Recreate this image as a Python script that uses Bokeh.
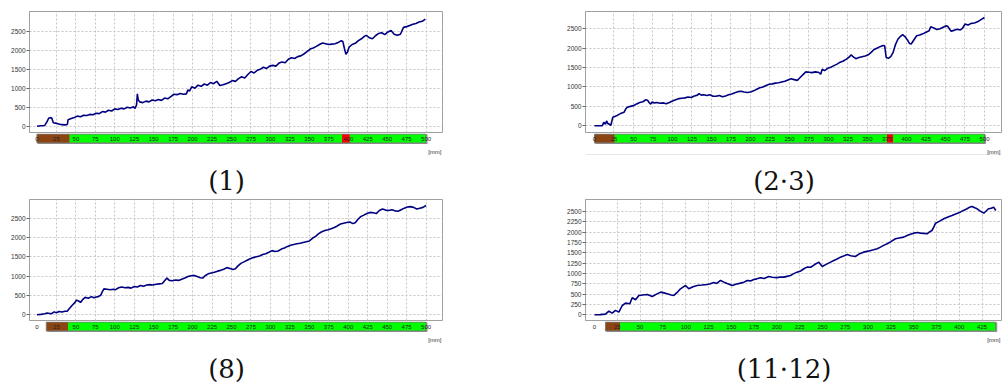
from bokeh.plotting import figure
from bokeh.layouts import column, row
from bokeh.models import Range1d, FixedTicker, ColumnDataSource
from bokeh.core.properties import value
from bokeh.embed import file_html
from bokeh.resources import INLINE

# ---------------- data ----------------
P1_POINTS = [(0, 0), (5, 10), (10, 20), (13, 120), (15, 210), (17, 225), (19, 215), (21, 90), (24, 80), (28, 60),
             (32, 40), (36, 35), (39, 45), (40, 170), (44, 200), (48, 230), (52, 265), (56, 250), (60, 290), (64, 280),
             (68, 310), (72, 300), (76, 340), (80, 330), (84, 385), (88, 370), (92, 420), (96, 400), (100, 455),
             (104, 440), (108, 470), (112, 455), (116, 500), (120, 480), (124, 510), (126, 470), (128, 560), (129, 850),
             (130, 700), (132, 640), (136, 620), (140, 660), (144, 640), (148, 690), (152, 670), (156, 700), (160, 680),
             (164, 740), (168, 720), (172, 780), (176, 840), (180, 830), (184, 860), (188, 840), (192, 850), (194, 960),
             (196, 920), (199, 1040), (203, 1000), (207, 1080), (211, 1050), (215, 1110), (219, 1080), (223, 1150),
             (227, 1120), (231, 1180), (235, 1070), (239, 1090), (243, 1120), (247, 1150), (251, 1200), (255, 1180),
             (259, 1250), (263, 1300), (267, 1270), (271, 1360), (275, 1440), (279, 1400), (283, 1470), (287, 1500),
             (291, 1550), (295, 1520), (299, 1580), (303, 1600), (307, 1580), (311, 1660), (315, 1690), (319, 1670),
             (323, 1760), (327, 1800), (331, 1780), (335, 1830), (339, 1850), (343, 1900), (347, 1960), (351, 2030),
             (355, 2060), (359, 2100), (363, 2150), (367, 2190), (371, 2170), (375, 2150), (379, 2160), (383, 2170),
             (387, 2200), (391, 2250), (393, 2230), (395, 2050), (397, 1890), (399, 1950), (401, 2080), (405, 2150),
             (409, 2180), (413, 2250), (417, 2300), (421, 2370), (423, 2390), (427, 2330), (431, 2300), (435, 2380),
             (439, 2440), (443, 2460), (447, 2410), (451, 2480), (455, 2520), (459, 2420), (463, 2390), (467, 2420),
             (471, 2600), (475, 2620), (479, 2650), (483, 2680), (487, 2700), (491, 2740), (495, 2760), (499, 2820)]

P2_POINTS = [(0, 0), (5, 0), (10, 5), (12, 90), (14, 40), (15.5, 125), (17, 60), (19, 40), (21, 15), (23.5, 220),
             (26, 240), (29, 265), (32, 300), (35, 330), (38, 350), (40, 430), (42, 480), (46, 500), (50, 520),
             (54, 560), (58, 600), (62, 620), (66, 670), (68, 660), (70, 600), (72, 560), (74, 610), (77, 590),
             (80, 600), (84, 580), (88, 590), (92, 570), (96, 600), (100, 640), (104, 670), (108, 700), (112, 710),
             (116, 720), (120, 740), (124, 730), (128, 770), (132, 790), (134, 830), (137, 790), (140, 800), (144, 780),
             (148, 800), (152, 760), (156, 760), (160, 780), (164, 750), (168, 770), (172, 800), (176, 820), (180, 850),
             (184, 880), (188, 890), (192, 870), (196, 860), (200, 870), (204, 900), (208, 940), (212, 980),
             (216, 1000), (220, 1040), (224, 1070), (228, 1080), (232, 1100), (236, 1110), (240, 1130), (244, 1150),
             (248, 1180), (252, 1210), (256, 1190), (260, 1170), (264, 1250), (268, 1330), (271, 1390), (275, 1380),
             (279, 1370), (283, 1390), (287, 1380), (290, 1330), (292, 1460), (295, 1420), (299, 1480), (303, 1510),
             (307, 1550), (311, 1590), (315, 1640), (319, 1670), (323, 1720), (327, 1780), (329, 1830), (331, 1790),
             (335, 1730), (339, 1760), (343, 1780), (347, 1800), (351, 1830), (355, 1900), (358, 1960), (362, 2000),
             (366, 2040), (370, 2070), (372, 2060), (374, 1760), (377, 1740), (380, 1790), (383, 1900), (386, 2100),
             (389, 2230), (392, 2300), (395, 2350), (398, 2300), (401, 2220), (404, 2120), (406, 2110), (409, 2200),
             (413, 2320), (417, 2340), (421, 2370), (425, 2410), (429, 2450), (431, 2550), (435, 2520), (439, 2480),
             (443, 2500), (447, 2540), (451, 2580), (453, 2560), (457, 2440), (461, 2460), (465, 2490), (469, 2470),
             (472, 2520), (475, 2620), (479, 2600), (483, 2640), (487, 2650), (491, 2680), (495, 2730), (500, 2790)]

P3_POINTS = [(0, 0), (5, 10), (10, 25), (13, 45), (16, 35), (19, 30), (22, 75), (25, 50), (28, 85), (32, 70),
             (36, 90), (39, 95), (42, 170), (45, 240), (48, 300), (51, 380), (54, 350), (56, 320), (59, 400),
             (62, 450), (66, 430), (70, 470), (73, 440), (76, 460), (79, 470), (82, 510), (84, 600), (86, 670),
             (90, 660), (94, 650), (98, 660), (101, 650), (105, 700), (109, 720), (113, 700), (117, 710), (121, 690),
             (125, 730), (129, 720), (133, 760), (137, 740), (141, 770), (145, 780), (149, 770), (153, 790), (157, 800),
             (161, 810), (164, 880), (167, 950), (170, 890), (174, 880), (178, 900), (182, 890), (186, 920), (190, 950),
             (194, 990), (198, 1010), (202, 1020), (206, 990), (210, 960), (213, 950), (216, 1010), (220, 1060),
             (224, 1080), (228, 1100), (232, 1130), (236, 1150), (240, 1180), (244, 1220), (248, 1200), (252, 1170),
             (255, 1190), (258, 1260), (262, 1330), (266, 1370), (270, 1410), (274, 1450), (278, 1480), (282, 1500),
             (286, 1520), (290, 1560), (294, 1580), (298, 1620), (302, 1660), (306, 1640), (310, 1650), (314, 1700),
             (318, 1730), (322, 1770), (326, 1800), (330, 1820), (334, 1840), (338, 1850), (342, 1870), (346, 1890),
             (350, 1910), (354, 1980), (358, 2030), (362, 2100), (366, 2150), (370, 2180), (374, 2200), (378, 2230),
             (382, 2260), (386, 2300), (390, 2350), (394, 2370), (398, 2390), (402, 2400), (406, 2360), (409, 2380),
             (412, 2460), (416, 2540), (420, 2580), (424, 2620), (428, 2650), (432, 2640), (436, 2620), (440, 2700),
             (444, 2740), (448, 2710), (452, 2700), (456, 2720), (460, 2690), (464, 2680), (468, 2720), (472, 2760),
             (476, 2790), (480, 2800), (484, 2780), (488, 2740), (492, 2760), (496, 2780), (500, 2830)]

P4_POINTS = [(0, 0), (6, 5), (12, 16), (15.7, 89), (19.4, 40), (23, 108), (26.7, 65), (30.4, 225), (34, 282),
             (38.7, 266), (41.3, 411), (45, 363), (48.6, 468), (53, 480), (57.8, 492), (63.3, 444), (68, 500),
             (72.4, 548), (76, 530), (79.7, 508), (84, 480), (87, 468), (91, 550), (94.3, 629), (99.8, 710),
             (103.4, 629), (108, 680), (112.6, 710), (118, 720), (123.6, 734), (127, 750), (130.8, 782), (134, 760),
             (138.2, 831), (142, 790), (145.5, 758), (151, 710), (155, 740), (160, 766), (164, 790), (167.4, 831),
             (171, 820), (174.7, 855), (178, 870), (182, 895), (186, 880), (191, 927), (195, 910), (200, 900),
             (204, 915), (207.6, 911), (211, 930), (215, 951), (218, 990), (222, 1032), (226, 1060), (230, 1120),
             (233, 1153), (237, 1150), (241, 1210), (246, 1274), (249.7, 1169), (254, 1220), (258.8, 1274),
             (263, 1320), (266, 1350), (269.7, 1395), (273, 1420), (277, 1460), (281, 1430), (286, 1411), (290, 1470),
             (295, 1516), (300, 1540), (306, 1573), (310, 1600), (313.6, 1637), (317, 1680), (321, 1718), (325, 1770),
             (330, 1839), (334, 1860), (339, 1879), (344, 1930), (350, 1976), (354, 1990), (357.5, 1976), (361, 1970),
             (364.7, 1960), (367, 2000), (370, 2040), (372, 2120), (374, 2217), (378, 2260), (383, 2323), (387, 2360),
             (392, 2403), (396, 2440), (401, 2484), (404, 2520), (408.5, 2565), (411, 2600), (414, 2621), (417, 2590),
             (419.6, 2565), (423, 2510), (426.9, 2459), (429, 2500), (432, 2565), (435, 2580), (437.7, 2605),
             (440, 2525)]

# zone bar below each chart: start [mm], end [mm], zone kind
P1_ZONE_START = [0, 42, 392, 402]
P1_ZONE_END = [42, 392, 402, 500]
P1_ZONE_KIND = ["lead", "pass", "flag", "pass"]

P2_ZONE_START = [0, 26, 375, 383]
P2_ZONE_END = [26, 375, 383, 500]
P2_ZONE_KIND = ["lead", "pass", "flag", "pass"]

P3_ZONE_START = [12, 40]
P3_ZONE_END = [40, 500]
P3_ZONE_KIND = ["lead", "pass"]

P4_ZONE_START = [12, 28]
P4_ZONE_END = [28, 440]
P4_ZONE_KIND = ["lead", "pass"]

X_TICKS_500 = [0, 25, 50, 75, 100, 125, 150, 175, 200, 225, 250, 275, 300, 325, 350, 375, 400, 425, 450, 475, 500]
X_TICKS_425 = [0, 25, 50, 75, 100, 125, 150, 175, 200, 225, 250, 275, 300, 325, 350, 375, 400, 425]
Y_TICKS_500 = [0, 500, 1000, 1500, 2000, 2500]
Y_TICKS_250 = [0, 250, 500, 750, 1000, 1250, 1500, 1750, 2000, 2250, 2500]
CAPTIONS = ["(1)", "(2·3)", "(8)", "(11·12)"]
UNIT_LABEL = "[mm]"

ZONE_COLORS = {"lead": "#8B4513", "pass": "#00FF00", "flag": "#FF0000"}

MAIN_H = 125
BAR_H = 63


def make_panel(points, zstart, zend, zkind, xticks, yticks, xr, yr, caption,
               fig_w, b_left, b_right, faint_line=False):
    xs = [pt[0] for pt in points]
    ys = [pt[1] for pt in points]
    frame_w = fig_w - b_left - b_right
    ux = (xr[1] - xr[0]) / frame_w
    xrange = Range1d(*xr)

    p = figure(width=fig_w, height=MAIN_H, x_range=xrange, y_range=Range1d(*yr),
               x_axis_location=None, y_axis_location="left",
               min_border_left=b_left, min_border_right=b_right,
               min_border_top=3, min_border_bottom=1,
               output_backend="svg", toolbar_location=None)
    p.outline_line_color = "#a0a0a0"
    p.background_fill_color = "white"
    p.yaxis.ticker = FixedTicker(ticks=yticks)
    p.yaxis.major_label_text_font = "Liberation Sans"
    p.yaxis.major_label_text_font_size = "6.5px"
    p.yaxis.major_label_text_color = "#333333"
    p.yaxis.major_label_standoff = 1
    p.yaxis.axis_line_color = "#a0a0a0"
    p.yaxis.major_tick_out = 3
    p.yaxis.major_tick_in = 0
    p.yaxis.minor_tick_out = 0
    p.yaxis.minor_tick_in = 0
    p.yaxis.major_tick_line_color = "#666666"
    p.ygrid.ticker = FixedTicker(ticks=yticks)
    p.xgrid.ticker = FixedTicker(ticks=xticks[1:])
    for g in (p.xgrid, p.ygrid):
        g.grid_line_color = "#c4c4c4"
        g.grid_line_dash = "2 2"
        g.grid_line_width = 1
    p.line(xs, ys, line_color="#000080", line_width=1.6)

    b = figure(width=fig_w, height=BAR_H, x_range=xrange, y_range=Range1d(BAR_H, 0),
               x_axis_location=None, y_axis_location=None,
               min_border_left=b_left, min_border_right=b_right,
               min_border_top=0, min_border_bottom=0,
               output_backend="svg", toolbar_location=None)
    b.grid.visible = False
    b.outline_line_color = None
    if faint_line:
        b.segment(x0=[xr[0]], x1=[xr[1]], y0=[21], y1=[21], line_color="#e8e8e8", line_width=1)
    # shadow and outline of the zone bar
    b.quad(left=[zstart[0] + ux], right=[zend[-1] + 1.5 * ux], top=[1], bottom=[10.5],
           fill_color="#9a9a9a", line_color=None)
    b.quad(left=zstart, right=zend, top=0.5, bottom=9.5,
           fill_color=[ZONE_COLORS[k] for k in zkind], line_color=None)
    b.quad(left=[zstart[0]], right=[zend[-1]], top=[0.5], bottom=[9.5],
           fill_color=None, line_color="#7a7a7a", line_width=1)
    src = ColumnDataSource(dict(x=xticks, y=[5] * len(xticks), t=[str(v) for v in xticks]))
    b.text(x="x", y="y", text="t", source=src, text_align="center", text_baseline="middle",
           text_font=value("Liberation Sans"), text_font_size="6px", text_color="#222222")
    b.text(x=[xr[1] - ux], y=[18], text=[UNIT_LABEL], text_align="right", text_baseline="middle",
           text_font=value("Liberation Sans"), text_font_size="6px", text_color="#333333")
    cx = (xr[0] - 19 * ux + xr[1]) / 2
    b.text(x=[cx], y=[47], text=[caption], text_align="center", text_baseline="middle",
           text_font=value("DejaVu Serif"), text_font_size="26px", text_color="#111111")
    return column(p, b)


c1 = make_panel(P1_POINTS, P1_ZONE_START, P1_ZONE_END, P1_ZONE_KIND, X_TICKS_500, Y_TICKS_500,
                (-9.6, 521.1), (-166, 3018), CAPTIONS[0], 545, 19, 111)
c2 = make_panel(P2_POINTS, P2_ZONE_START, P2_ZONE_END, P2_ZONE_KIND, X_TICKS_500, Y_TICKS_500,
                (-11.5, 521.8), (-173, 2946), CAPTIONS[1], 450, 32, 2, faint_line=True)
c3 = make_panel(P3_POINTS, P3_ZONE_START, P3_ZONE_END, P3_ZONE_KIND, X_TICKS_500, Y_TICKS_500,
                (-9.6, 521.1), (-148, 2984), CAPTIONS[2], 545, 19, 111)
c4 = make_panel(P4_POINTS, P4_ZONE_START, P4_ZONE_END, P4_ZONE_KIND, X_TICKS_425, Y_TICKS_250,
                (-9.9, 446.3), (-138, 2790), CAPTIONS[3], 450, 32, 2)

layout = column(row(c1, c2), row(c3, c4), margin=(8, 0, 0, 8))

open("out.html", "w").write(file_html(layout, INLINE))
